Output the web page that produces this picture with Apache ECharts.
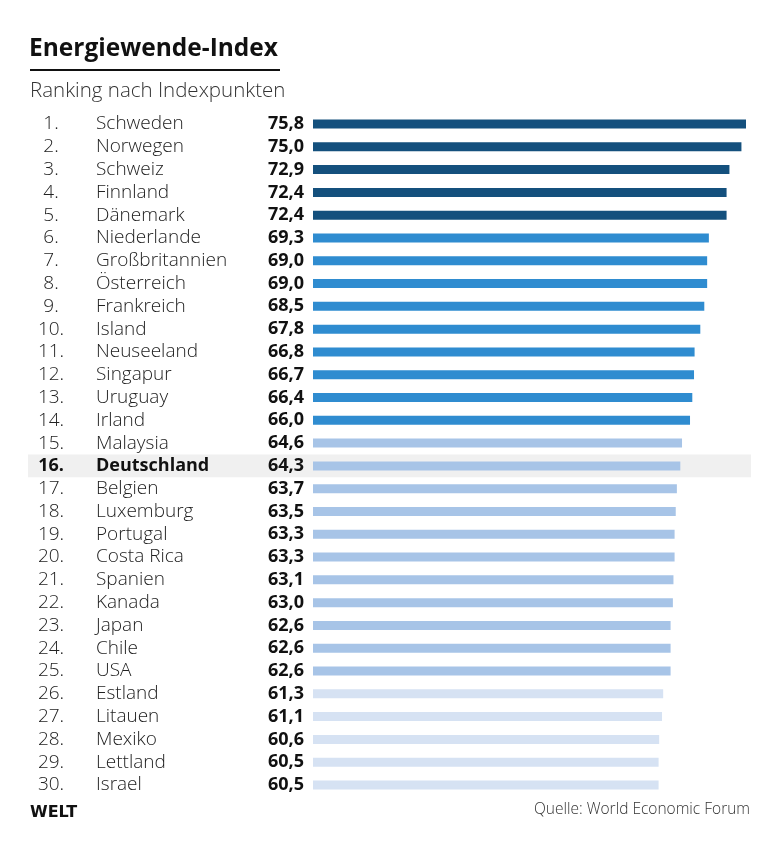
<!DOCTYPE html>
<html>
<head>
<meta charset="utf-8">
<script src="https://cdn.jsdelivr.net/npm/echarts@6/dist/echarts.min.js"></script>
<style>
  html, body { margin: 0; padding: 0; background: #fff; }
  #chart { width: 780px; height: 861px; }
</style>
</head>
<body>
<div id="chart"></div>
<script>
// Energiewende-Index, Ranking nach Indexpunkten
var countries = [
  "Schweden", "Norwegen", "Schweiz", "Finnland", "Dänemark",
  "Niederlande", "Großbritannien", "Österreich", "Frankreich", "Island",
  "Neuseeland", "Singapur", "Uruguay", "Irland", "Malaysia",
  "Deutschland", "Belgien", "Luxemburg", "Portugal", "Costa Rica",
  "Spanien", "Kanada", "Japan", "Chile", "USA",
  "Estland", "Litauen", "Mexiko", "Lettland", "Israel"
];
var values = [
  75.8, 75.0, 72.9, 72.4, 72.4,
  69.3, 69.0, 69.0, 68.5, 67.8,
  66.8, 66.7, 66.4, 66.0, 64.6,
  64.3, 63.7, 63.5, 63.3, 63.3,
  63.1, 63.0, 62.6, 62.6, 62.6,
  61.3, 61.1, 60.6, 60.5, 60.5
];
// last rank of each colour group
var tierEnds = [5, 14, 25, 30];
var tierColors = ["#14507d", "#2f8cd0", "#a7c4e7", "#d6e2f3"];
var highlight = "Deutschland";

var FONT = "'Open Sans', 'Noto Sans', sans-serif";

function tierColor(idx) {
  var rank = idx + 1;
  for (var i = 0; i < tierEnds.length; i++) {
    if (rank <= tierEnds[i]) return tierColors[i];
  }
  return tierColors[tierColors.length - 1];
}

var chart = echarts.init(document.getElementById("chart"), null, { renderer: "canvas" });

var option = {
  animation: false,
  backgroundColor: "#ffffff",
  title: [
    {
      text: "Energiewende-Index",
      left: 29, top: 37, padding: 0,
      textStyle: { fontFamily: FONT, fontSize: 24.5, fontWeight: "bold", color: "#111" }
    },
    {
      text: "Ranking nach Indexpunkten",
      left: 30, top: 81, padding: 0,
      textStyle: { fontFamily: FONT, fontSize: 20.5, fontWeight: 300, color: "#333" }
    },
    {
      text: "WELT",
      left: 30, top: 805, padding: 0,
      textStyle: { fontFamily: "'DejaVu Sans', sans-serif", fontSize: 16, fontWeight: "bold", color: "#111" }
    },
    {
      text: "Quelle: World Economic Forum",
      right: 30, top: 802, padding: 0,
      textStyle: { fontFamily: FONT, fontSize: 15.5, fontWeight: 300, color: "#333" }
    }
  ],
  graphic: [
    {
      id: "underline", type: "rect", z: 10,
      shape: { x: 30, y: 69, width: 250, height: 2 },
      style: { fill: "#111" }
    }
  ],
  grid: { left: 313, right: 34, top: 112.6, height: 683.8, containLabel: false },
  xAxis: {
    type: "value", min: 0, max: 75.8,
    show: false
  },
  yAxis: {
    type: "category",
    inverse: true,
    data: countries,
    axisLine: { show: false },
    axisTick: { show: false },
    splitLine: { show: false },
    axisLabel: {
      align: "left",
      margin: 283,
      fontFamily: FONT,
      formatter: function (value, index) {
        var rank = (index + 1) + ".";
        if (value === highlight) {
          return "{rb|" + rank + "}{nb|" + value + "}";
        }
        return "{r|" + rank + "}{n|" + value + "}";
      },
      rich: {
        r:  { width: 42, align: "right", fontFamily: FONT, fontSize: 19, fontWeight: 300, color: "#222" },
        n:  { padding: [0, 0, 0, 24], fontFamily: FONT, fontSize: 19, fontWeight: 300, color: "#222" },
        rb: { width: 42, align: "right", fontFamily: FONT, fontSize: 18, fontWeight: "bold", color: "#111" },
        nb: { padding: [0, 0, 0, 24], fontFamily: FONT, fontSize: 18, fontWeight: "bold", color: "#111" }
      }
    }
  },
  series: [
    {
      type: "bar",
      barWidth: 9,
      data: values.map(function (v, i) {
        return { value: v, itemStyle: { color: tierColor(i) } };
      }),
      label: {
        show: true,
        position: "left",
        distance: 9,
        fontFamily: FONT,
        fontSize: 18,
        fontWeight: "bold",
        color: "#111",
        formatter: function (p) {
          return p.value.toFixed(1).replace(".", ",");
        }
      },
      z: 5
    }
  ]
};

chart.setOption(option);

// grey band behind the highlighted row, placed via the category scale
var rowY = chart.convertToPixel({ yAxisIndex: 0 }, highlight);
var rowH = 683.8 / countries.length;
chart.setOption({
  graphic: [
    {
      id: "underline", type: "rect", z: 10,
      shape: { x: 30, y: 69, width: 250, height: 2 },
      style: { fill: "#111" }
    },
    {
      id: "rowband", type: "rect", z: -1, silent: true,
      shape: { x: 28, y: rowY - rowH / 2, width: 723, height: rowH },
      style: { fill: "#f0f0f0" }
    }
  ]
});
</script>
</body>
</html>
